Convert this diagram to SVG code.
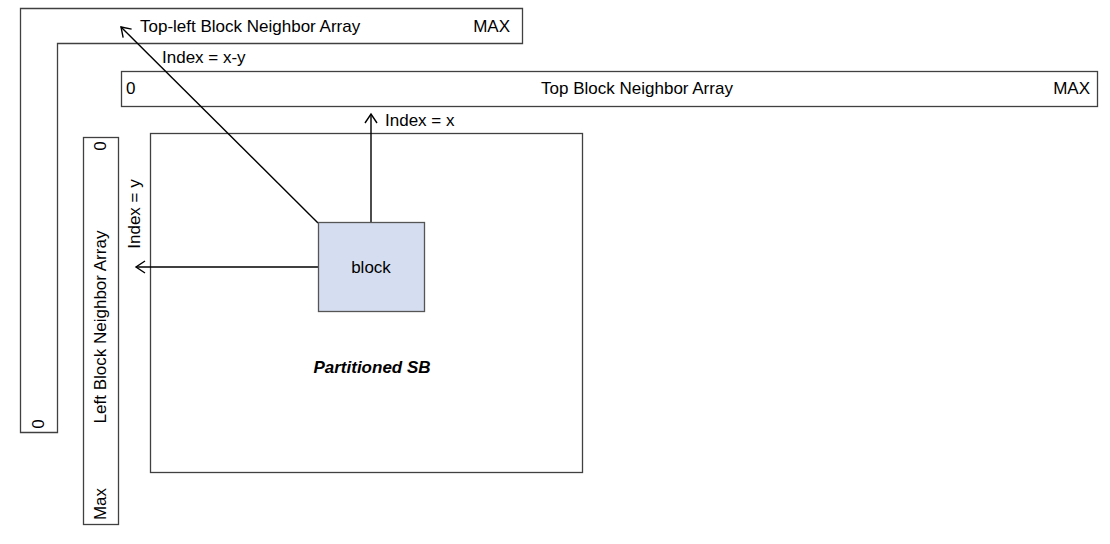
<svg xmlns="http://www.w3.org/2000/svg" width="1110" height="544" viewBox="0 0 1110 544">
<defs>
<style>
.box{fill:#fff;stroke:#404040;stroke-width:1.3}
.t{font-family:"Liberation Sans",Arial,sans-serif;font-size:17px;fill:#000;dominant-baseline:central}
.c{stroke:#000;stroke-width:1.4;fill:none}
</style>
<marker id="ah" markerWidth="14" markerHeight="14" refX="12" refY="7" orient="auto" markerUnits="userSpaceOnUse">
<path d="M3,1 L12,7 L3,13" fill="none" stroke="#000" stroke-width="1.4"/>
</marker>
</defs>
<rect width="1110" height="544" fill="#fff"/>
<g id="topleft-array">
<path class="box" d="M20.5,8.5 H522.5 V43.5 H57.5 V432.5 H20.5 Z"/>
<text class="t" x="140" y="26">Top-left Block Neighbor Array</text>
<text class="t" x="510" y="26" text-anchor="end">MAX</text>
<text class="t" transform="translate(38,424) rotate(-90)" text-anchor="middle">0</text>
</g>
<g id="top-array">
<rect class="box" x="121.5" y="71.5" width="976" height="35"/>
<text class="t" x="126" y="88">0</text>
<text class="t" x="637" y="88" text-anchor="middle">Top Block Neighbor Array</text>
<text class="t" x="1090" y="88" text-anchor="end">MAX</text>
</g>
<g id="left-array">
<rect class="box" x="83.5" y="137.5" width="35" height="387"/>
<text class="t" transform="translate(100,146) rotate(-90)" text-anchor="middle">0</text>
<text class="t" transform="translate(100,327) rotate(-90)" text-anchor="middle">Left Block Neighbor Array</text>
<text class="t" transform="translate(100,504) rotate(-90)" text-anchor="middle">Max</text>
</g>
<g id="partitioned-sb">
<rect class="box" x="150.5" y="133.5" width="432" height="339"/>
<text class="t" x="372" y="367" text-anchor="middle" font-size="16" font-weight="bold" font-style="italic">Partitioned SB</text>
</g>
<g id="connectors">
<line class="c" x1="318" y1="223" x2="121" y2="27" marker-end="url(#ah)"/>
<line class="c" x1="371" y1="223" x2="371" y2="114" marker-end="url(#ah)"/>
<line class="c" x1="318" y1="267" x2="136" y2="267" marker-end="url(#ah)"/>
<text class="t" x="162" y="57">Index = x-y</text>
<text class="t" x="385" y="120">Index = x</text>
<text class="t" transform="translate(134,214) rotate(-90)" text-anchor="middle">Index = y</text>
</g>
<g id="block">
<rect x="318.5" y="222.5" width="106" height="89" fill="#D5DEF0" stroke="#555" stroke-width="1.3"/>
<text class="t" x="371" y="267" text-anchor="middle">block</text>
</g>
</svg>
